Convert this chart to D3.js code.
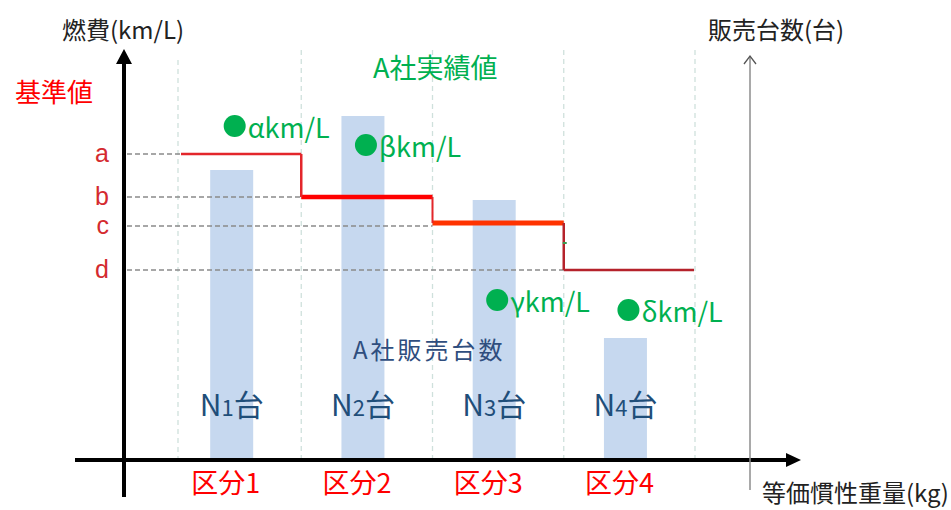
<!DOCTYPE html>
<html><head><meta charset="utf-8">
<script src="https://cdn.jsdelivr.net/npm/d3@7"></script>
<style>
html,body{margin:0;padding:0;background:#fff;}
svg{display:block;font-family:"Noto Sans CJK JP","Noto Sans",sans-serif;}
</style></head>
<body><svg id="c" width="951" height="510"></svg>
<script>
// ---- data ----
const categories = ["区分1", "区分2", "区分3", "区分4"];
const salesLabels = ["N1台", "N2台", "N3台", "N4台"];
const salesValues = [72.5, 86, 65, 30.5];          // A社販売台数 (relative)
const standardNames = ["a", "b", "c", "d"];
const standardValues = [76.5, 65.75, 58.5, 47.5];  // 基準値 (relative fuel economy)
const actualNames = ["α", "β", "γ", "δ"];
const actualValues = [83.5, 78.75, 40, 37.5];      // A社実績値 (relative fuel economy)

// ---- scales ----
const svg = d3.select("#c");
const x = d3.scaleBand().domain(categories).range([170, 695]).paddingInner(0).paddingOuter(0);
const yFuel = d3.scaleLinear().domain([0, 100]).range([460, 60]);
const ySales = d3.scaleLinear().domain([0, 100]).range([460, 60]);
const barW = 43;
const barC = c => x(c) + x.step() * 0.47;

// vertical dashed gridlines at category boundaries
const bounds = categories.map((c, i) => x(c) + (i === 0 ? 8 : 0)).concat([x(categories[3]) + x.step()]);
svg.append("g").selectAll("line").data(bounds).join("line")
  .attr("x1", d => d).attr("x2", d => d)
  .attr("y1", (d, i) => i === 0 ? 60 : 50).attr("y2", 458)
  .attr("stroke", "#cfe0dc").attr("stroke-width", 1.3).attr("stroke-dasharray", "5,4");

// bars
svg.append("g").selectAll("rect").data(categories).join("rect")
  .attr("x", c => barC(c) - barW / 2)
  .attr("width", barW)
  .attr("y", (c, i) => ySales(salesValues[i]))
  .attr("height", (c, i) => ySales(0) - ySales(salesValues[i]) - 2)
  .attr("fill", "#c6d8ef");

// dashed reference lines for standard values
svg.append("g").selectAll("line").data(standardValues).join("line")
  .attr("x1", 127).attr("x2", (v, i) => x(categories[i]) + (i === 0 ? 11 : 0))
  .attr("y1", v => yFuel(v)).attr("y2", v => yFuel(v))
  .attr("stroke", "#8a8a8a").attr("stroke-width", 1.3).attr("stroke-dasharray", "5,3");

// step line (standard)
const segColors = ["#e3262b", "#ff0000", "#ff3300", "#b5222b"];
const segWidths = [2.5, 4.5, 5, 2.5];
const step = svg.append("g");
categories.forEach((c, i) => {
  const x0 = x(c) + (i === 0 ? 11 : 0), x1 = x(c) + x.step() - (i === 3 ? 1 : 0);
  const yy = yFuel(standardValues[i]) - (i === 2 ? 3 : 0);
  step.append("line").attr("x1", x0).attr("x2", x1)
    .attr("y1", yy).attr("y2", yy)
    .attr("stroke", segColors[i]).attr("stroke-width", segWidths[i]);
  if (i > 0) {
    step.append("line").attr("x1", x(c)).attr("x2", x(c))
      .attr("y1", yFuel(standardValues[i - 1]) - (i === 3 ? 3 : 0)).attr("y2", yy)
      .attr("stroke", i === 3 ? "#b5222b" : "#e3262b").attr("stroke-width", i === 2 ? 2 : 2.5);
  }
});
// small green tick on the last riser
svg.append("line").attr("x1", x(categories[3]) - 1).attr("x2", x(categories[3]) + 3)
  .attr("y1", 243).attr("y2", 243).attr("stroke", "#3a9a50").attr("stroke-width", 2);

// left axis with a,b,c,d labels
const axL = svg.append("g").attr("transform", "translate(124,0)")
  .call(d3.axisLeft(yFuel).tickValues(standardValues).tickFormat((d, i) => standardNames[i]).tickSize(0).tickPadding(15));
axL.select(".domain").remove();
axL.selectAll("text").attr("font-size", 25).attr("fill", "#d42a2f")
  .attr("font-family", "'Liberation Sans',Arial,sans-serif").attr("dy", "0.3em");

// left axis arrow line
svg.append("line").attr("x1", 124).attr("x2", 124).attr("y1", 60).attr("y2", 497)
  .attr("stroke", "#000").attr("stroke-width", 4);
svg.append("path").attr("d", "M124,49 L116,64 L132,64 Z").attr("fill", "#000");

// bottom axis arrow line
svg.append("line").attr("x1", 75).attr("x2", 788).attr("y1", 460).attr("y2", 460)
  .attr("stroke", "#000").attr("stroke-width", 4);
svg.append("path").attr("d", "M801,460 L786,453 L786,467 Z").attr("fill", "#000");

// right axis (sales)
svg.append("line").attr("x1", 750).attr("x2", 750).attr("y1", 56).attr("y2", 490)
  .attr("stroke", "#8c8c8c").attr("stroke-width", 1.5);
svg.append("path").attr("d", "M744,64 L750,56 L756,64").attr("fill", "none")
  .attr("stroke", "#555").attr("stroke-width", 1.3);

// actual values: dots and labels
const dots = svg.append("g");
categories.forEach((c, i) => {
  const cx = barC(c) + 3, cy = yFuel(actualValues[i]);
  dots.append("circle").attr("cx", cx).attr("cy", cy).attr("r", 11).attr("fill", "#00b050");
  dots.append("text").attr("x", cx + 13).attr("y", cy).attr("dominant-baseline", "central")
    .attr("font-size", 27).attr("fill", "#00b050").text(actualNames[i] + "km/L");
});

// sales labels
const nl = svg.append("g");
categories.forEach((c, i) => {
  const lab = salesLabels[i];
  const t = nl.append("text").attr("x", barC(c)).attr("y", 416).attr("text-anchor", "middle")
    .attr("fill", "#1f4e79").attr("font-size", 30);
  t.append("tspan").text(lab[0]);
  t.append("tspan").attr("font-size", 22).text(lab.slice(1, -1));
  t.append("tspan").text(lab.slice(-1));
});

// category labels
svg.append("g").selectAll("text").data(categories).join("text")
  .attr("x", c => barC(c) - 6).attr("y", 481).attr("text-anchor", "middle")
  .attr("dominant-baseline", "central").attr("font-size", 27).attr("fill", "#ff0000").text(c => c);

// titles
const T = (txt, xx, yy, size, fill, anchor, ls) => svg.append("text").attr("x", xx).attr("y", yy)
  .attr("dominant-baseline", "central").attr("text-anchor", anchor || "start")
  .attr("font-size", size).attr("fill", fill).attr("letter-spacing", ls || 0).text(txt);
T("燃費(km/L)", 62, 28, 24, "#222");
T("基準値", 15, 90, 26, "#ff0000");
T("販売台数(台)", 708, 28, 24, "#222");
T("等価慣性重量(kg)", 762, 491, 24, "#222");
T("A社実績値", 373, 66, 27, "#00b050");
T("A社販売台数", 353, 348, 24, "#2f4e7e", "start", 3);
</script></body></html>
